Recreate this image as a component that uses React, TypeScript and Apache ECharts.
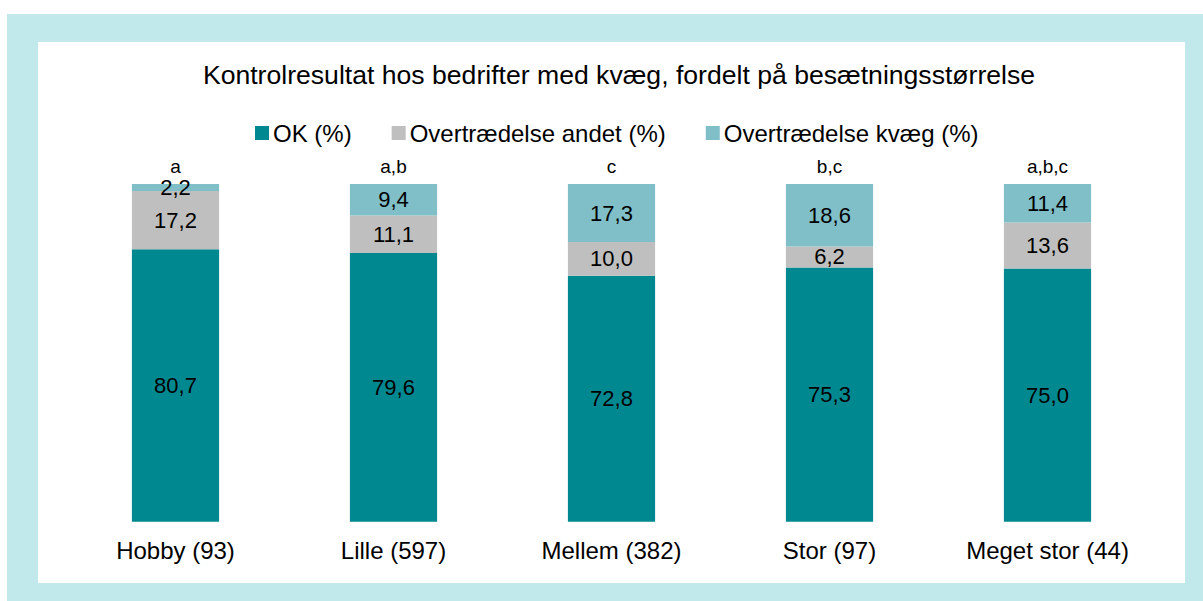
import React, { useEffect, useRef } from "react";
import * as echarts from "echarts";

const categories = ["Hobby (93)", "Lille (597)", "Mellem (382)", "Stor (97)", "Meget stor (44)"];
const topLetters = ["a", "a,b", "c", "b,c", "a,b,c"];
const okValues = [80.7, 79.6, 72.8, 75.3, 75.0];
const andetValues = [17.2, 11.1, 10.0, 6.2, 13.6];
const kvaegValues = [2.2, 9.4, 17.3, 18.6, 11.4];
const seriesNames = ["OK (%)", "Overtrædelse andet (%)", "Overtrædelse kvæg (%)"];
const titleText = "Kontrolresultat hos bedrifter med kvæg, fordelt på besætningsstørrelse";

const FONT = "'Liberation Sans', Arial, sans-serif";
const colors = ["#008891", "#bfbfbf", "#80bfc8"];

export default function App() {
  const ref = useRef<HTMLDivElement>(null);
  useEffect(() => {
    if (!ref.current) return;
    const chart = echarts.init(ref.current, null, { renderer: "svg" });
    const fmt = (p: any) => Number(p.value).toFixed(1).replace(".", ",");
    const mk = (name: string, data: number[], color: string) => ({
      name,
      type: "bar",
      stack: "total",
      data,
      barWidth: "40%",
      itemStyle: { color },
      label: {
        show: true,
        position: "inside",
        formatter: fmt,
        color: "#000",
        fontSize: 22,
        fontFamily: FONT,
      },
    });
    chart.setOption({
      animation: false,
      textStyle: { fontFamily: FONT },
      graphic: [
        { type: "rect", z: -10, shape: { x: 7, y: 14, width: 1196, height: 587 }, style: { fill: "#c1e8eb" }, silent: true },
        { type: "rect", z: -9, shape: { x: 38, y: 42, width: 1147, height: 541 }, style: { fill: "#ffffff" }, silent: true },
      ],
      title: {
        text: titleText,
        left: 614,
        textAlign: "center",
        top: 56,
        textStyle: { fontSize: 26.6, fontWeight: "normal", color: "#000", fontFamily: FONT },
      },
      legend: {
        data: seriesNames,
        left: 250,
        top: 116,
        itemWidth: 14,
        itemHeight: 14,
        itemGap: 40,
        icon: "rect",
        textStyle: { fontSize: 24, color: "#000", fontFamily: FONT, padding: [0, 0, 0, -1] },
      },
      grid: { left: 66.5, right: 46.5, top: 184, bottom: 79.3, containLabel: false },
      xAxis: [
        {
          type: "category",
          data: categories,
          axisLine: { show: false },
          axisTick: { show: false },
          axisLabel: { fontSize: 24, color: "#000", margin: 17, fontFamily: FONT, interval: 0 },
        },
        {
          type: "category",
          position: "top",
          data: topLetters,
          axisLine: { show: false },
          axisTick: { show: false },
          axisLabel: { fontSize: 19, color: "#000", margin: 8, fontFamily: FONT, interval: 0 },
        },
      ],
      yAxis: { type: "value", min: 0, max: 100, show: false, splitLine: { show: false } },
      series: [
        mk(seriesNames[0], okValues, colors[0]),
        mk(seriesNames[1], andetValues, colors[1]),
        mk(seriesNames[2], kvaegValues, colors[2]),
      ],
    });
    return () => chart.dispose();
  }, []);
  return (
    <div
      ref={ref}
      style={{ position: "fixed", left: 0, top: 0, width: 1203, height: 601, background: "#fff" }}
    />
  );
}
